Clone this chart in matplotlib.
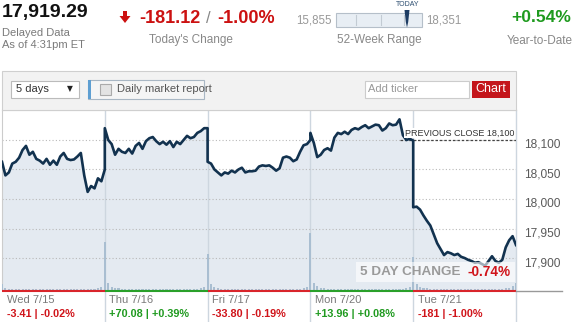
import numpy as np
import matplotlib
matplotlib.use("Agg")
import matplotlib.pyplot as plt
from matplotlib.patches import Rectangle, Polygon
from matplotlib.transforms import Affine2D, blended_transform_factory, ScaledTranslation

plt.rcParams['font.family'] = ['Liberation Sans', 'DejaVu Sans']

# ---------------- data ----------------
days = ["Wed 7/15", "Thu 7/16", "Fri 7/17", "Mon 7/20", "Tue 7/21"]
day_change = [-3.41, 70.08, -33.80, 13.96, -181.12]
day_change_labels = ["-3.41 | -0.02%", "+70.08 | +0.39%", "-33.80 | -0.19%",
                     "+13.96 | +0.08%", "-181 | -1.00%"]
minutes = np.linspace(0, 390, 31)   # sample times within each session

wed = [18063, 18040, 18045, 18060, 18063, 18070, 18083, 18090, 18075, 18080,
       18068, 18065, 18060, 18068, 18058, 18065, 18058, 18072, 18078, 18068,
       18066, 18067, 18072, 18078, 18040, 18012, 18022, 18018, 18035, 18030, 18050]
thu = [18120, 18100, 18093, 18075, 18085, 18080, 18078, 18085, 18077, 18090,
       18095, 18085, 18098, 18103, 18105, 18098, 18093, 18097, 18092, 18098,
       18088, 18097, 18093, 18100, 18107, 18103, 18105, 18112, 18115, 18120, 18120]
fri = [18063, 18060, 18050, 18045, 18040, 18045, 18043, 18048, 18045, 18050,
       18053, 18045, 18047, 18047, 18048, 18055, 18057, 18056, 18057, 18053,
       18048, 18052, 18070, 18072, 18070, 18064, 18067, 18080, 18091, 18093, 18100]
mon = [18112, 18095, 18071, 18075, 18083, 18086, 18082, 18104, 18112, 18110,
       18114, 18110, 18117, 18120, 18118, 18122, 18125, 18120, 18123, 18126,
       18125, 18116, 18120, 18128, 18125, 18126, 18135, 18108, 18100, 18102, 18099]
tue = [17986, 17987, 17982, 17972, 17963, 17955, 17940, 17925, 17915, 17905,
       17910, 17908, 17905, 17907, 17902, 17900, 17897, 17895, 17892, 17893,
       17890, 17887, 17895, 17903, 17895, 17892, 17897, 17918, 17930, 17937, 17922]

vol_wed = [2.0, 0.6, 0.5, 0.4, 0.4, 0.3, 0.3, 0.4, 0.3, 0.3, 0.3, 0.4, 0.3, 0.3, 0.3,
           0.3, 0.3, 0.4, 0.3, 0.3, 0.3, 0.4, 0.5, 0.4, 0.3, 0.3, 0.4, 0.5, 0.7, 1.0, 1.8]
vol_thu = [16.0, 2.2, 1.0, 0.7, 0.6, 0.5, 0.4, 0.4, 0.4, 0.3, 0.3, 0.3, 0.3, 0.3, 0.3,
           0.3, 0.3, 0.3, 0.3, 0.3, 0.3, 0.3, 0.3, 0.3, 0.3, 0.4, 0.4, 0.5, 0.6, 0.9, 1.5]
vol_fri = [12.0, 2.0, 1.0, 0.7, 0.5, 0.5, 0.4, 0.4, 0.3, 0.3, 0.3, 0.3, 0.3, 0.3, 0.3,
           0.3, 0.3, 0.3, 0.3, 0.3, 0.3, 0.3, 0.3, 0.3, 0.3, 0.4, 0.4, 0.5, 0.6, 0.9, 1.5]
vol_mon = [19.0, 2.5, 1.2, 0.8, 0.6, 0.5, 0.4, 0.4, 0.4, 0.3, 0.3, 0.3, 0.3, 0.3, 0.3,
           0.3, 0.3, 0.3, 0.3, 0.3, 0.3, 0.3, 0.3, 0.3, 0.4, 0.4, 0.4, 0.5, 0.7, 1.0, 1.6]
vol_tue = [11.0, 2.0, 1.0, 0.8, 0.6, 0.5, 0.5, 0.4, 0.4, 0.4, 0.3, 0.3, 0.3, 0.3, 0.3,
           0.3, 0.3, 0.3, 0.3, 0.3, 0.3, 0.3, 0.3, 0.4, 0.4, 0.4, 0.5, 0.6, 0.8, 1.2, 2.2]

prev_close = 18100
y_ticks = [18100, 18050, 18000, 17950, 17900]
five_day_change = "-0.74%"

# ---------------- figure ----------------
W, H = 575, 322
fig = plt.figure(figsize=(W / 100, H / 100), dpi=100)
fig.patch.set_facecolor("white")
P = Affine2D().scale(1 / W, -1 / H).translate(0, 1) + fig.transFigure


def rect(x0, y0, x1, y1):
    return [x0 / W, 1 - y1 / H, (x1 - x0) / W, (y1 - y0) / H]


def ptxt(x, y, s, **kw):
    kw.setdefault("va", "center")
    fig.text(x, y, s, transform=P, **kw)


def prect(x0, y0, x1, y1, **kw):
    fig.patches.append(Rectangle((x0, y0), x1 - x0, y1 - y0, transform=P, **kw))


# header
ptxt(2, 13, "17,919.29", fontsize=14, fontweight="bold", color="#111111")
ptxt(2, 33, "Delayed Data", fontsize=8, color="#7a7a7a")
ptxt(2, 45.5, "As of 4:31pm ET", fontsize=8, color="#7a7a7a")
fig.patches.append(Polygon([(123, 11), (127, 11), (127, 16), (130.5, 16), (125, 23),
                            (119.5, 16), (123, 16)], closed=True, transform=P,
                           facecolor="#cc1111", edgecolor="none"))
ptxt(139, 18.5, "-181.12", fontsize=13, fontweight="bold", color="#cc1111")
ptxt(208, 18.5, "/", fontsize=12, color="#888888", ha="center")
ptxt(217, 18.5, "-1.00%", fontsize=13, fontweight="bold", color="#cc1111")
ptxt(191, 40.5, "Today's Change", fontsize=8.5, color="#888888", ha="center")

ptxt(332, 20.5, "15,855", fontsize=8.3, color="#999999", ha="right")
prect(336, 13, 422, 27, facecolor="#e8eef4", edgecolor="#b5bfc9", linewidth=0.8)
for tx in (356, 381, 404):
    fig.lines.append(plt.Line2D([tx, tx], [15, 25], transform=P, color="#c3cbd3", lw=0.8))
fig.patches.append(Polygon([(404.5, 10), (409.5, 10), (408.2, 22), (407, 27.5), (405.8, 22)],
                           closed=True, transform=P, facecolor="#1d3c63", edgecolor="none"))
ptxt(408, 5, "TODAY", fontsize=5, color="#2b4c6f", ha="center")
ptxt(426, 20.5, "18,351", fontsize=8.3, color="#999999")
ptxt(379, 39.5, "52-Week Range", fontsize=8.5, color="#888888", ha="center")
ptxt(511, 17.5, "+0.54%", fontsize=12.6, fontweight="bold", color="#1e9a1e")
ptxt(540, 40.5, "Year-to-Date", fontsize=8.5, color="#888888", ha="center")

# toolbar
prect(2, 71, 516, 110, facecolor="#f2f2f2", edgecolor="#cfcfcf", linewidth=0.8)
prect(11, 81, 79, 98, facecolor="white", edgecolor="#bbbbbb", linewidth=0.8)
ptxt(16, 89.5, "5 days", fontsize=8, color="#333333")
ptxt(70, 89, "\u25BC", fontsize=5.5, color="#222222", ha="center",
     family=["DejaVu Sans"])
prect(88, 80, 204, 99, facecolor="#f5f5f5", edgecolor="#a9b7c4", linewidth=0.8)
prect(88, 80, 90.5, 99, facecolor="#5e9fd2", edgecolor="none")
prect(100, 83.5, 111, 94.5, facecolor="#e3e3e3", edgecolor="#aaaaaa", linewidth=0.8)
ptxt(117, 89.5, "Daily market report", fontsize=8, color="#555555")
prect(365, 81, 469, 98, facecolor="white", edgecolor="#cccccc", linewidth=0.8)
ptxt(368, 89.5, "Add ticker", fontsize=8, color="#999999")
prect(472, 81, 510, 98, facecolor="#c4161c", edgecolor="none")
ptxt(491, 89.5, "Chart", fontsize=9, color="white", ha="center")

# ---------------- price chart ----------------
ax = fig.add_axes(rect(2, 110, 516, 290))
ax2 = ax.twinx()
ax3 = ax.twinx()
ax.set_zorder(1)
ax2.set_zorder(2)
ax3.set_zorder(3)
ax2.patch.set_visible(False)
ax3.patch.set_visible(False)

series = [wed, thu, fri, mon, tue]
vols = [vol_wed, vol_thu, vol_fri, vol_mon, vol_tue]
x = np.concatenate([d + minutes / 390 for d in range(len(series))])
price = np.concatenate([np.asarray(s, float) for s in series])
volume = np.concatenate([np.asarray(v, float) for v in vols])

ymin, ymax = 17845.8, 18150.8
for a in (ax, ax2, ax3):
    a.set_xlim(0, len(days))
ax.set_ylim(ymin, ymax)
ax3.set_ylim(ymin, ymax)
ax2.set_ylim(0, 60)

# bottom layer: fill, separators, grid
ax.fill_between(x, price, ymin, color="#e4eaf1", lw=0, zorder=1)
bt0 = blended_transform_factory(ax.transData, ax.transAxes)
for d in range(1, len(days) + 1):
    ax.plot([d, d], [1, -32 / 180], transform=bt0, color="#cdd6df", lw=1.0,
            clip_on=False, zorder=1.5)
for v in y_ticks:
    ax.axhline(v, color="#b9b9b9", lw=0.8, ls=(0, (1, 2)), zorder=2)

# volume
ax2.bar(x, volume, width=0.02, color="#a9bed1", lw=0, zorder=1)

# price line
ax3.plot(x, price, color="#12324f", lw=1.9, solid_joinstyle="round", zorder=3)
ax3.plot([3.87, len(days)], [prev_close, prev_close], color="#444444", lw=0.9,
         ls=(0, (2, 1.5)), zorder=2)
ax3.text(len(days) - 0.02, prev_close + 4, f"PREVIOUS CLOSE {prev_close:,}",
         ha="right", va="bottom", fontsize=6.5, color="#333333", zorder=4,
         bbox=dict(boxstyle="square,pad=0.08", facecolor="white", edgecolor="none"))

for a in (ax, ax2, ax3):
    a.set_xticks([])
    a.set_yticks([])
    for s in a.spines.values():
        s.set_visible(False)

ax.spines["left"].set_visible(True)
ax.spines["top"].set_visible(True)
ax.spines["left"].set_color("#cccccc")
ax.spines["top"].set_color("#cccccc")

# y labels on the right
blend = blended_transform_factory(ax.transAxes, ax.transData)
for v in y_ticks:
    ax.text(1.0, v, f"{v:,}", transform=blend + ScaledTranslation(0.08, -0.05, fig.dpi_scale_trans),
            ha="left", va="center", fontsize=8.6, color="#5a5a5a", clip_on=False)

# bottom colored line, day labels
bt = blended_transform_factory(ax3.transData, ax3.transAxes)
for d, (lab, chg, chl) in enumerate(zip(days, day_change, day_change_labels)):
    col = "#d9252b" if chg < 0 else "#2aa02a"
    ax3.plot([d, d + 1], [-0.004, -0.004], transform=bt, color=col, lw=1.5,
             clip_on=False, solid_capstyle="butt", zorder=5)
    tcol = "#d0141a" if chg < 0 else "#1f9a1f"
    ax3.text(d + 0.045, -10 / 180, lab, transform=bt, fontsize=8, color="#7a7a7a",
             va="center", ha="left")
    ax3.text(d + 0.045, -24 / 180, chl, transform=bt, fontsize=7.8, fontweight="bold",
             color=tcol, va="center", ha="left")
ax3.plot([len(days), len(days) + 0.447], [-0.004, -0.004], transform=bt, color="#999999",
         lw=1.0, clip_on=False, zorder=5)

# 5 day change box
prect(356, 262, 515, 282, facecolor="white", alpha=0.6, edgecolor="none", zorder=5)
ptxt(360, 272.5, "5 DAY CHANGE", fontsize=9.7, fontweight="bold", color="#9a9a9a", zorder=6)
ptxt(511, 272.5, five_day_change, fontsize=9.8, fontweight="bold", color="#d0141a",
     ha="right", zorder=6)

fig.savefig("out.png", dpi=100)
